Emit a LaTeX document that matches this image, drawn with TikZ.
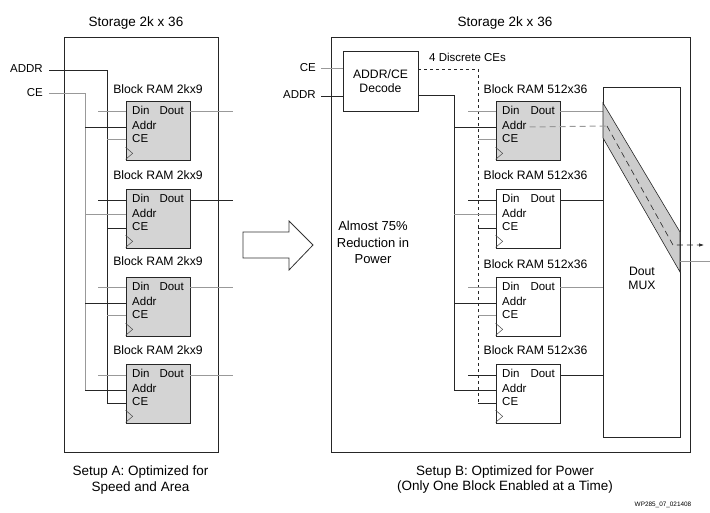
\documentclass[tikz,border=0pt]{standalone}
\usepackage{fontspec}
\setmainfont{Liberation Sans}
\usetikzlibrary{arrows.meta}

\tikzset{
	ram/.style={draw=black!85, line width=0.7pt, minimum width=64pt, minimum height=59pt, inner sep=0pt},
	ramon/.style={ram, fill=black!17},
	pin/.style={font=\fontsize{11.5}{13}\selectfont, inner sep=0pt},
	lbl/.style={font=\fontsize{12.2}{14}\selectfont, inner sep=0pt},
	big/.style={font=\fontsize{13.5}{16}\selectfont, inner sep=0pt},
	wire/.style={draw=black!85, line width=0.6pt},
	gwire/.style={draw=black!40, line width=1pt},
	clk/.style={draw=black!70, line width=0.5pt},
	frame/.style={draw=black!85, line width=0.8pt}
}

\begin{document}
\begin{tikzpicture}[x=1pt, y=-1pt]
				\useasboundingbox (0,0) rectangle (710,513);

				% setup A
				\draw [frame] (64,37) rectangle (218,452);
				\node [big, anchor=mid] (titleA) at (136,24) {Storage 2k x 36};

				\node [pin, anchor=mid east] (addrA) at (43,70) {ADDR};
				\node [pin, anchor=mid east] (ceA) at (43,94) {CE};
				\coordinate (busaddrA) at (107,70);
				\coordinate (busceA) at (85,94);
				\coordinate (dinA) at (98,0);
				\coordinate (doutA) at (233,0);

				\node [lbl, anchor=mid] (labA1) at (158,91) {Block RAM 2kx9};
				\node [ramon] (A1) at (158,130.5) {};
				\node [pin, anchor=mid west] (A1din) at (132,112) {Din};
				\node [pin, anchor=mid east] (A1dout) at (184,112) {Dout};
				\node [pin, anchor=mid west] (A1addr) at (132,127) {Addr};
				\node [pin, anchor=mid west] (A1ce) at (132,140) {CE};
				\draw [clk] (A1.south west) ++(0,-13) -- ++(7,6) -- ++(-7,6);

				\node [lbl, anchor=mid] (labA2) at (158,177) {Block RAM 2kx9};
				\node [ramon] (A2) at (158,218.5) {};
				\node [pin, anchor=mid west] (A2din) at (132,200) {Din};
				\node [pin, anchor=mid east] (A2dout) at (184,200) {Dout};
				\node [pin, anchor=mid west] (A2addr) at (132,215) {Addr};
				\node [pin, anchor=mid west] (A2ce) at (132,228) {CE};
				\draw [clk] (A2.south west) ++(0,-13) -- ++(7,6) -- ++(-7,6);

				\node [lbl, anchor=mid] (labA3) at (158,263) {Block RAM 2kx9};
				\node [ramon] (A3) at (158,306.5) {};
				\node [pin, anchor=mid west] (A3din) at (132,288) {Din};
				\node [pin, anchor=mid east] (A3dout) at (184,288) {Dout};
				\node [pin, anchor=mid west] (A3addr) at (132,303) {Addr};
				\node [pin, anchor=mid west] (A3ce) at (132,316) {CE};
				\draw [clk] (A3.south west) ++(0,-13) -- ++(7,6) -- ++(-7,6);

				\node [lbl, anchor=mid] (labA4) at (158,352) {Block RAM 2kx9};
				\node [ramon] (A4) at (158,393.5) {};
				\node [pin, anchor=mid west] (A4din) at (132,375) {Din};
				\node [pin, anchor=mid east] (A4dout) at (184,375) {Dout};
				\node [pin, anchor=mid west] (A4addr) at (132,390) {Addr};
				\node [pin, anchor=mid west] (A4ce) at (132,403) {CE};
				\draw [clk] (A4.south west) ++(0,-13) -- ++(7,6) -- ++(-7,6);

				\draw [wire] ([xshift=6pt]addrA.mid east) -- (busaddrA) -- (busaddrA |- A4ce.mid);
				\draw [gwire] ([xshift=6pt]ceA.mid east) -- (busceA) -- (busceA |- A4addr.mid);

				\draw [gwire] (dinA |- A1din.mid) -- (A1.west |- A1din.mid);
				\draw [gwire] (A1.east |- A1dout.mid) -- (doutA |- A1dout.mid);
				\draw [wire] (busceA |- A1addr.mid) -- (A1.west |- A1addr.mid);
				\draw [gwire] (busaddrA |- A1ce.mid) -- (A1.west |- A1ce.mid);

				\draw [wire] (dinA |- A2din.mid) -- (A2.west |- A2din.mid);
				\draw [wire] (A2.east |- A2dout.mid) -- (doutA |- A2dout.mid);
				\draw [gwire] (busceA |- A2addr.mid) -- (A2.west |- A2addr.mid);
				\draw [wire] (busaddrA |- A2ce.mid) -- (A2.west |- A2ce.mid);

				\draw [gwire] (dinA |- A3din.mid) -- (A3.west |- A3din.mid);
				\draw [gwire] (A3.east |- A3dout.mid) -- (doutA |- A3dout.mid);
				\draw [wire] (busceA |- A3addr.mid) -- (A3.west |- A3addr.mid);
				\draw [gwire] (busaddrA |- A3ce.mid) -- (A3.west |- A3ce.mid);

				\draw [gwire] (dinA |- A4din.mid) -- (A4.west |- A4din.mid);
				\draw [gwire] (A4.east |- A4dout.mid) -- (doutA |- A4dout.mid);
				\draw [wire] (busceA |- A4addr.mid) -- (A4.west |- A4addr.mid);
				\draw [wire] (busaddrA |- A4ce.mid) -- (A4.west |- A4ce.mid);

				\node [big, align=center] (capA) at (140.5,480.5) {Setup A: Optimized for\\Speed and Area};

				% big arrow
				\draw [black!80, line width=0.8pt] (243,232) -- (289,232) -- (289,221) -- (313,245) -- (289,270) -- (289,258) -- (243,258) -- cycle;

				% setup B
				\draw [frame] (331,37) rectangle (690,452);
				\node [big, anchor=mid] (titleB) at (505,24) {Storage 2k x 36};

				\node [pin, anchor=mid east] (ceB) at (316,69) {CE};
				\node [pin, anchor=mid east] (addrB) at (316,96) {ADDR};
				\node [lbl, draw=black!85, line width=0.7pt, minimum width=75pt, minimum height=60pt, align=center] (dec) at (380.5,81) {ADDR/CE\\Decode};
				\draw [gwire] ([xshift=5pt]ceB.mid east) -- (dec.west |- ceB.mid);
				\draw [wire] ([xshift=5pt]addrB.mid east) -- (dec.west |- addrB.mid);
				\node [pin, anchor=mid west] (ces) at (429,59) {4 Discrete CEs};
				\coordinate (busceB) at (478,69);
				\coordinate (busaddrB) at (454,95);
				\coordinate (dinB) at (468,0);

				\node [lbl, anchor=mid] (labB1) at (535.5,91) {Block RAM 512x36};
				\node [ramon] (B1) at (528,130.5) {};
				\node [pin, anchor=mid west] (B1din) at (502,112) {Din};
				\node [pin, anchor=mid east] (B1dout) at (555,112) {Dout};
				\node [pin, anchor=mid west] (B1addr) at (502,127) {Addr};
				\node [pin, anchor=mid west] (B1ce) at (502,140) {CE};
				\draw [clk] (B1.south west) ++(0,-13) -- ++(7,6) -- ++(-7,6);

				\node [lbl, anchor=mid] (labB2) at (535.5,177) {Block RAM 512x36};
				\node [ram] (B2) at (528,218.5) {};
				\node [pin, anchor=mid west] (B2din) at (502,200) {Din};
				\node [pin, anchor=mid east] (B2dout) at (555,200) {Dout};
				\node [pin, anchor=mid west] (B2addr) at (502,215) {Addr};
				\node [pin, anchor=mid west] (B2ce) at (502,228) {CE};
				\draw [clk] (B2.south west) ++(0,-13) -- ++(7,6) -- ++(-7,6);

				\node [lbl, anchor=mid] (labB3) at (535.5,266) {Block RAM 512x36};
				\node [ram] (B3) at (528,306.5) {};
				\node [pin, anchor=mid west] (B3din) at (502,288) {Din};
				\node [pin, anchor=mid east] (B3dout) at (555,288) {Dout};
				\node [pin, anchor=mid west] (B3addr) at (502,303) {Addr};
				\node [pin, anchor=mid west] (B3ce) at (502,316) {CE};
				\draw [clk] (B3.south west) ++(0,-13) -- ++(7,6) -- ++(-7,6);

				\node [lbl, anchor=mid] (labB4) at (535.5,352) {Block RAM 512x36};
				\node [ram] (B4) at (528,393.5) {};
				\node [pin, anchor=mid west] (B4din) at (502,375) {Din};
				\node [pin, anchor=mid east] (B4dout) at (555,375) {Dout};
				\node [pin, anchor=mid west] (B4addr) at (502,390) {Addr};
				\node [pin, anchor=mid west] (B4ce) at (502,403) {CE};
				\draw [clk] (B4.south west) ++(0,-13) -- ++(7,6) -- ++(-7,6);

				\node [draw=black!85, line width=0.7pt, minimum width=77pt, minimum height=350pt] (mux) at (641.5,262) {};
				\node [lbl, align=center] (muxtxt) at (642,278.5) {Dout\\MUX};

				\draw [wire, dashed] (dec.east |- busceB) -- (busceB) -- (busceB |- B4ce.mid);
				\draw [wire] (dec.east |- busaddrB) -- (busaddrB) -- (busaddrB |- B4addr.mid);

				\draw [gwire] (dinB |- B1din.mid) -- (B1.west |- B1din.mid);
				\draw [gwire] (B1.east |- B1dout.mid) -- (mux.west |- B1dout.mid);
				\draw [wire] (busaddrB |- B1addr.mid) -- (B1.west |- B1addr.mid);
				\draw [gwire] (busceB |- B1ce.mid) -- (B1.west |- B1ce.mid);

				\draw [wire] (dinB |- B2din.mid) -- (B2.west |- B2din.mid);
				\draw [wire] (B2.east |- B2dout.mid) -- (mux.west |- B2dout.mid);
				\draw [gwire] (busaddrB |- B2addr.mid) -- (B2.west |- B2addr.mid);
				\draw [wire] (busceB |- B2ce.mid) -- (B2.west |- B2ce.mid);

				\draw [gwire] (dinB |- B3din.mid) -- (B3.west |- B3din.mid);
				\draw [gwire] (B3.east |- B3dout.mid) -- (mux.west |- B3dout.mid);
				\draw [wire] (busaddrB |- B3addr.mid) -- (B3.west |- B3addr.mid);
				\draw [gwire] (busceB |- B3ce.mid) -- (B3.west |- B3ce.mid);

				\draw [wire] (dinB |- B4din.mid) -- (B4.west |- B4din.mid);
				\draw [wire] (B4.east |- B4dout.mid) -- (mux.west |- B4dout.mid);
				\draw [wire] (busaddrB |- B4addr.mid) -- (B4.west |- B4addr.mid);
				\draw [wire] (busceB |- B4ce.mid) -- (B4.west |- B4ce.mid);

				% selected path through the mux
				\fill [black!20, draw=black!85, line width=0.6pt] (603,103) -- (680,232) -- (680,272) -- (603,138) -- cycle;
				\coordinate (tap) at (607,126);
				\coordinate (bend) at (673,245);
				\coordinate (outB) at (704,245);
				\coordinate (outC) at (710,262);
				\draw [gwire, dash pattern=on 6pt off 4pt] ([xshift=3pt]B1addr.mid east) -- (tap);
				\draw [wire, dash pattern=on 6pt off 4pt, -{Latex[length=5pt, width=3.5pt]}] (tap) -- (bend) -- (outB);
				\draw [gwire] (mux.east |- outC) -- (outC);

				\node [big, font=\fontsize{13}{16.5}\selectfont, align=center] (note) at (373,242.5) {Almost 75\%\\Reduction in\\Power};
				\node [big, font=\fontsize{13.5}{14.5}\selectfont, align=center] (capB) at (505,479.5) {Setup B: Optimized for Power\\(Only One Block Enabled at a Time)};
				\node [font=\fontsize{6.4}{7}\selectfont, inner sep=0pt] (tag) at (663,505) {WP285\_07\_021408};
\end{tikzpicture}
\end{document}
